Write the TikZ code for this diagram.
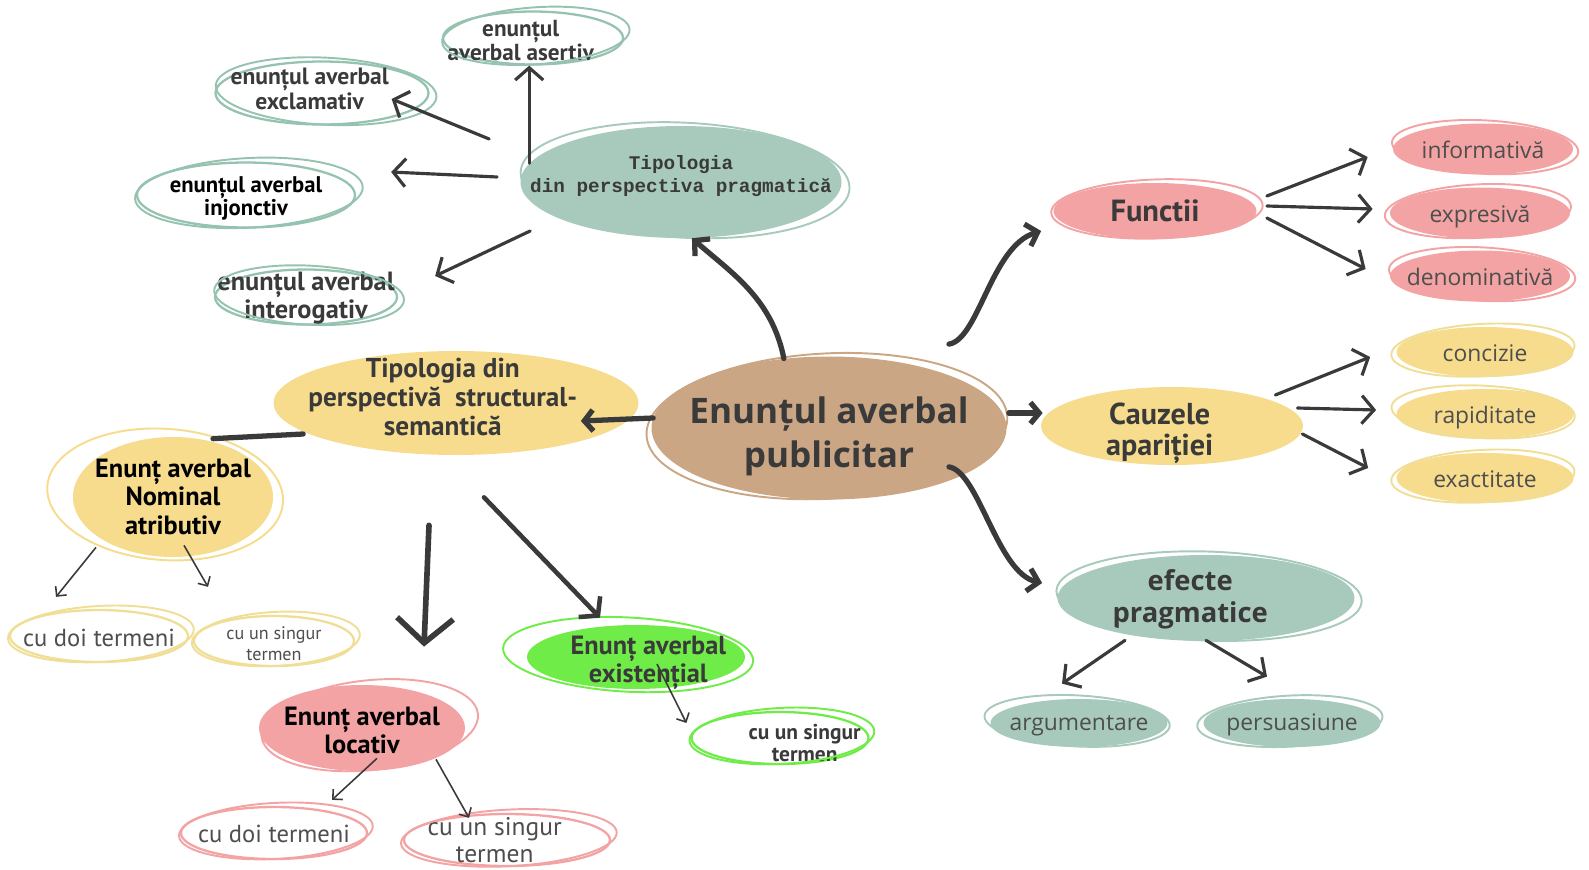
\documentclass[tikz,border=0pt]{standalone}
\usepackage{fontspec}
\setmainfont{PT Sans}
\newfontfamily\roundfont{Open Sans}
\setmonofont{Liberation Mono}
\usetikzlibrary{shapes.geometric,arrows.meta,calc}

\definecolor{ink}{RGB}{58,58,58}
\definecolor{leafink}{RGB}{78,78,78}
\definecolor{tanfill}{RGB}{203,166,132}
\definecolor{sage}{RGB}{168,202,188}
\definecolor{sageline}{RGB}{150,195,176}
\definecolor{rosy}{RGB}{243,163,164}
\definecolor{sand}{RGB}{246,220,140}
\definecolor{sandline}{RGB}{240,222,150}
\definecolor{lime}{RGB}{112,236,72}

% text of a bubble, kept out of the size of the ellipse
\newcommand{\celltext}[2][-.42em]{\makebox[0pt]{\smash{\raisebox{#1}{\begin{tabular}{@{}c@{}}#2\end{tabular}}}}}
% same, moved sideways by #2
\newcommand{\celltextat}[3][-.42em]{\hspace*{#2}\hspace*{#2}\celltext[#1]{#3}}

% loose hand drawn ring round a bubble
\newcommand{\scribble}[5]{%
  \draw[#2, line width=1.1pt, rotate around={#3:(#1.center)}]
    let \p1=($(#1.east)-(#1.center)$), \p2=($(#1.north)-(#1.center)$) in
    ([shift={(#4,-2)}]#1.center) ellipse [x radius=\x1+#5*0.02cm, y radius=\y2+#5*0.006cm];
}

\begin{document}
\begin{tikzpicture}[x=0.02cm, y=-0.02cm]

\tikzstyle{bubble}=[ellipse, inner sep=0pt, text=ink]
\tikzstyle{leaf}=[ellipse, inner sep=0pt, line width=1.3pt, fill=white, text=leafink]
\tikzstyle{curvearrow}=[line width=3pt, draw=ink, line cap=round, -{Straight Barb[length=6pt, width=13pt]}]
\tikzstyle{straightarrow}=[line width=3pt, draw=ink, line cap=round, -{Straight Barb[length=5pt, width=12pt]}]
\tikzstyle{branch}=[line width=1.8pt, draw=ink, line cap=round, -{Straight Barb[length=7pt, width=16pt]}]
\tikzstyle{bigarrow}=[line width=3.2pt, draw=ink, line cap=round, -{Straight Barb[length=14pt, width=32pt]}]
\tikzstyle{existarrow}=[line width=2.6pt, draw=ink, line cap=round, -{Straight Barb[length=7pt, width=17pt]}]
\tikzstyle{thinarrow}=[line width=0.9pt, draw=ink, -{Straight Barb[length=4pt, width=8pt]}]
\tikzset{sz/.style 2 args={minimum width=#1*0.02cm, minimum height=#2*0.02cm}}

\useasboundingbox (0,0) rectangle (1589,869);

% centre
\node (pub) [bubble, fill=tanfill, sz={355}{143}, font=\roundfont\bfseries\fontsize{20}{25}\selectfont] at (829,428) {\celltext[-.5em]{Enunțul averbal\\publicitar}};
\scribble{pub}{tanfill}{3}{-2}{3}

% pragmatic side
\node (prag) [bubble, fill=sage, sz={321}{112}, font=\ttfamily\bfseries\fontsize{11}{13.3}\selectfont] at (681,182) {\celltext[.04em]{Tipologia\\din perspectiva pragmatică}};
\scribble{prag}{sage}{-3}{4}{4}
\node (asert) [leaf, draw=sageline, sz={180}{53}, font=\bfseries\fontsize{13.2}{14}\selectfont, text=ink] at (533,38) {\celltextat[-.46em]{-7pt}{enunțul\\averbal asertiv}};
\scribble{asert}{sageline}{4}{3}{3}
\node (excl) [leaf, draw=sageline, sz={213}{63}, font=\bfseries\fontsize{13.4}{14.5}\selectfont, text=ink] at (322,93) {\celltextat[-.22em]{-7pt}{enunțul averbal\\exclamativ}};
\scribble{excl}{sageline}{-3}{4}{3}
\node (injo) [leaf, draw=sageline, sz={218}{65}, font=\bfseries\fontsize{12.9}{13}\selectfont, text=black] at (246,195) {\celltext{enunțul averbal\\injonctiv}};
\scribble{injo}{sageline}{3}{3}{4}
\node (inter) [leaf, draw=sageline, sz={182}{55}, font=\bfseries\fontsize{15}{15.8}\selectfont, text=ink] at (306,297) {\celltext[-.3em]{enunțul averbal\\interogativ}};
\scribble{inter}{sageline}{-3}{3}{3}

% functions
\node (func) [bubble, fill=rosy, sz={203}{56}, font=\bfseries\fontsize{17.4}{19}\selectfont] at (1155,211) {\celltext[-.38em]{Functii}};
\scribble{func}{rosy}{2}{2}{4}
\node (info) [bubble, fill=rosy, sz={180}{51}, font=\roundfont\fontsize{13}{15}\selectfont, text=leafink] at (1483,149) {\celltext{informativă}};
\scribble{info}{rosy}{-3}{2}{3}
\node (expr) [bubble, fill=rosy, sz={180}{51}, font=\roundfont\fontsize{13}{15}\selectfont, text=leafink] at (1480,213) {\celltext{expresivă}};
\scribble{expr}{rosy}{3}{-2}{3}
\node (deno) [bubble, fill=rosy, sz={180}{51}, font=\roundfont\fontsize{13}{15}\selectfont, text=leafink] at (1480,276) {\celltext{denominativă}};
\scribble{deno}{rosy}{-3}{2}{3}

% causes
\node (cauze) [bubble, fill=sand, sz={262}{78}, font=\bfseries\fontsize{17.2}{17.8}\selectfont] at (1172,426) {\celltextat[-.5em]{-7pt}{Cauzele\\apariției}};
\node (conc) [bubble, fill=sand, sz={177}{50}, font=\roundfont\fontsize{13}{15}\selectfont, text=leafink] at (1485,352) {\celltext{concizie}};
\scribble{conc}{sandline}{3}{-2}{3}
\node (rapid) [bubble, fill=sand, sz={177}{50}, font=\roundfont\fontsize{13}{15}\selectfont, text=leafink] at (1485,414) {\celltext{rapiditate}};
\scribble{rapid}{sandline}{-3}{-2}{3}
\node (exact) [bubble, fill=sand, sz={177}{50}, font=\roundfont\fontsize{13}{15}\selectfont, text=leafink] at (1485,478) {\celltext{exactitate}};
\scribble{exact}{sandline}{3}{-2}{3}

% effects
\node (efect) [bubble, fill=sage, sz={297}{86}, font=\roundfont\bfseries\fontsize{15.6}{18.4}\selectfont] at (1206,598) {\celltextat[-.3em]{-9pt}{efecte\\pragmatice}};
\scribble{efect}{sage}{-2}{3}{4}
\node (argum) [bubble, fill=sage, sz={177}{48}, font=\roundfont\fontsize{13}{15}\selectfont, text=leafink] at (1079,723) {\celltext[-.33em]{argumentare}};
\scribble{argum}{sage}{-3}{-2}{4}
\node (persu) [bubble, fill=sage, sz={177}{48}, font=\roundfont\fontsize{13}{15}\selectfont, text=leafink] at (1292,723) {\celltext[-.33em]{persuasiune}};
\scribble{persu}{sage}{3}{-2}{4}

% structural side
\node (struct) [bubble, fill=sand, sz={365}{104}, font=\bfseries\fontsize{15.5}{16.4}\selectfont] at (456,403) {\celltextat[-.15em]{-7.5pt}{Tipologia din\\perspectivă~ structural-\\semantică}};
\node (nomin) [bubble, fill=sand, sz={200}{120}, font=\bfseries\fontsize{15}{16.2}\selectfont, text=black] at (173,497) {\celltext[-.35em]{Enunț averbal\\Nominal\\atributiv}};
\scribble{nomin}{sand}{-4}{-8}{18}
\node (nomdoi) [leaf, draw=sandline, sz={178}{52}, font=\fontsize{14}{16}\selectfont] at (99,636) {\celltext[-.45em]{cu doi termeni}};
\scribble{nomdoi}{sandline}{3}{2}{3}
\node (nomunu) [leaf, draw=sandline, sz={160}{50}, font=\fontsize{10.3}{11.8}\selectfont] at (274,641) {\celltext[-.5em]{cu un singur\\termen}};
\scribble{nomunu}{sandline}{3}{2}{3}

\node (locat) [bubble, fill=rosy, sz={206}{86}, font=\bfseries\fontsize{15}{16}\selectfont, text=black] at (362,728) {\celltext[-.45em]{Enunț averbal\\locativ}};
\scribble{locat}{rosy}{6}{8}{6}
\node (locdoi) [leaf, draw=rosy, sz={186}{52}, font=\fontsize{14}{16}\selectfont] at (274,833) {\celltext[-.4em]{cu doi termeni}};
\scribble{locdoi}{rosy}{3}{2}{3}
\node (locunu) [leaf, draw=rosy, sz={206}{52}, font=\fontsize{14.5}{15.5}\selectfont] at (507,840) {\celltextat[-.4em]{-7pt}{cu un singur\\termen}};
\scribble{locunu}{rosy}{3}{2}{4}

\node (exist) [bubble, fill=lime, sz={218}{64}, font=\bfseries\fontsize{15}{16}\selectfont] at (636,657) {\celltextat[-.45em]{7pt}{Enunț averbal\\existențial}};
\scribble{exist}{lime}{-3}{-8}{16}
\node (exunu) [leaf, draw=lime, sz={177}{52}, font=\bfseries\fontsize{12.2}{12.8}\selectfont, text=ink] at (780,738) {\celltextat[-.62em]{14pt}{cu un singur\\termen}};
\scribble{exunu}{lime}{3}{2}{3}

% links from the centre
\draw[curvearrow] (pub.123) .. controls +(-12,-60) and +(40,35) .. (prag.-79);
\draw[curvearrow] ([shift={(18,-25)}]pub.30) .. controls +(30,-5) and +(-50,15) .. ([shift={(-12,20)}]func.west);
\draw[curvearrow] ([shift={(18,-20)}]pub.-30) .. controls +(30,5) and +(-45,-10) .. ([shift={(-15,-15)}]efect.west);
\draw[straightarrow] ([shift={(2,-15)}]pub.east) -- ([shift={(2,-13)}]cauze.west);
\draw[straightarrow] ([shift={(2,-10)}]pub.west) -- ([shift={(-58,18)}]struct.east);

% pragmatic types
\draw[branch] (prag.173) -- (prag.173 |- asert.south);
\draw[branch] ([shift={(-31,-43)}]prag.west) -- ([shift={(-38,6)}]excl.east);
\draw[branch] ([shift={(-23,-5)}]prag.west) -- ([shift={(35,-23)}]injo.east);
\draw[branch] ([shift={(10,49)}]prag.west) -- ([shift={(37,-21)}]inter.east);

% functions, causes, effects
\draw[branch] ([shift={(10,-15)}]func.east) -- ([shift={(-25,8)}]info.west);
\draw[branch] ([shift={(10,-5)}]func.east) -- ([shift={(-17,-4)}]expr.west);
\draw[branch] ([shift={(10,7)}]func.east) -- ([shift={(-24,-7)}]deno.west);
\draw[branch] ([shift={(-28,-31)}]cauze.east) -- ([shift={(-26,5)}]conc.west);
\draw[branch] ([shift={(-6,-18)}]cauze.east) -- ([shift={(-20,-4)}]rapid.west);
\draw[branch] ([shift={(-1,8)}]cauze.east) -- ([shift={(-28,-10)}]exact.west);
\draw[branch] ([shift={(-81,-1)}]efect.south) -- ([shift={(-17,-15)}]argum.north);
\draw[branch] ([shift={(0,-1)}]efect.south) -- ([shift={(-25,-22)}]persu.north);

% structural types
\draw[line width=3pt, ink, line cap=round] ([shift={(30,31)}]struct.west) -- ([shift={(40,2)}]nomin.north);
\draw[bigarrow] ([shift={(-27,70)}]struct.south) -- ([shift={(62,-38)}]locat.north);
\draw[existarrow] ([shift={(28,42)}]struct.south) -- ([shift={(-36,-7)}]exist.north);
\draw[thinarrow] ([shift={(-77,-10)}]nomin.south) -- ([shift={(-43,-12)}]nomdoi.north);
\draw[thinarrow] ([shift={(11,-12)}]nomin.south) -- ([shift={(-66,-28)}]nomunu.north);
\draw[thinarrow] ([shift={(15,-13)}]locat.south) -- ([shift={(58,-6)}]locdoi.north);
\draw[thinarrow] ([shift={(74,-12)}]locat.south) -- ([shift={(-38,5)}]locunu.north);
\draw[thinarrow] ([shift={(21,7)}]exist.center) -- ([shift={(-4,-15)}]exunu.west);

\end{tikzpicture}
\end{document}
